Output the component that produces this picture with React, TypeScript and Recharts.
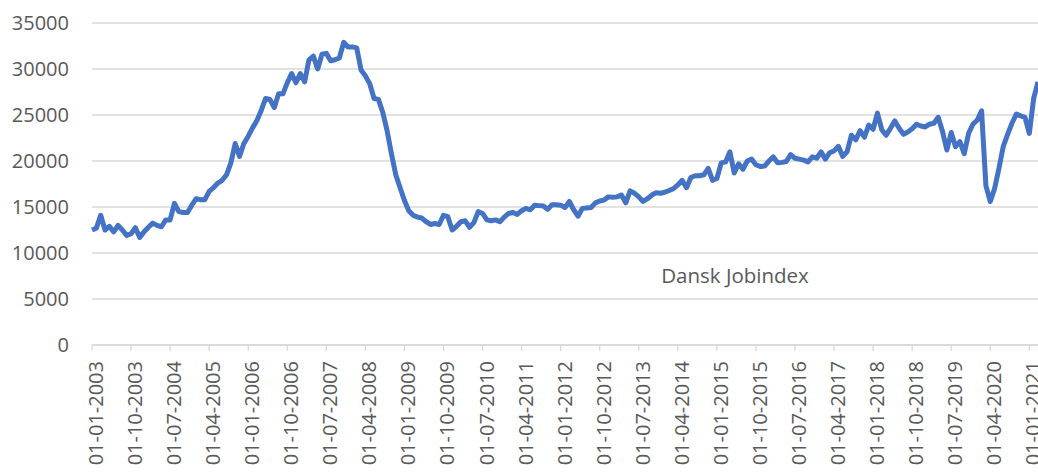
import { LineChart, Line, XAxis, YAxis, CartesianGrid, Legend } from "recharts";

// monthly values, Jan 2003 .. Mar 2021
const firstYear = 2003;
const v2003 = [12500, 12700, 14100, 12500, 12900, 12300, 13000, 12500, 11900, 12100, 12750, 11700];
const v2004 = [12300, 12800, 13250, 13000, 12850, 13600, 13600, 15400, 14500, 14400, 14400, 15200];
const v2005 = [15900, 15800, 15800, 16700, 17100, 17600, 17900, 18500, 19800, 21900, 20500, 21900];
const v2006 = [22700, 23600, 24400, 25500, 26800, 26700, 25800, 27300, 27300, 28500, 29500, 28500];
const v2007 = [29500, 28600, 31000, 31400, 30000, 31600, 31700, 30900, 31000, 31200, 32900, 32400];
const v2008 = [32400, 32300, 29900, 29250, 28400, 26800, 26700, 25300, 23300, 20800, 18500, 17100];
const v2009 = [15700, 14600, 14100, 13900, 13800, 13400, 13100, 13200, 13100, 14100, 13950, 12500];
const v2010 = [12900, 13400, 13500, 12800, 13300, 14500, 14300, 13600, 13500, 13600, 13400, 13900];
const v2011 = [14300, 14400, 14200, 14600, 14850, 14700, 15200, 15150, 15100, 14750, 15250, 15250];
const v2012 = [15200, 14950, 15600, 14700, 14000, 14850, 14900, 14950, 15450, 15650, 15750, 16100];
const v2013 = [16050, 16100, 16300, 15450, 16750, 16500, 16100, 15600, 15900, 16300, 16550, 16500];
const v2014 = [16600, 16800, 17000, 17400, 17900, 17100, 18200, 18400, 18400, 18500, 19200, 17900];
const v2015 = [18100, 19800, 19900, 21000, 18700, 19700, 19100, 20000, 20200, 19600, 19400, 19450];
const v2016 = [20000, 20450, 19800, 19850, 19950, 20700, 20300, 20200, 20100, 19900, 20450, 20300];
const v2017 = [21000, 20200, 20900, 21100, 21600, 20500, 21000, 22800, 22300, 23300, 22600, 23900];
const v2018 = [23450, 25200, 23400, 22800, 23550, 24350, 23550, 22900, 23150, 23500, 24000, 23800];
const v2019 = [23700, 24000, 24100, 24750, 23200, 21200, 23100, 21550, 22100, 20800, 23000, 24000];
const v2020 = [24450, 25450, 17300, 15600, 17000, 19200, 21600, 22900, 24100, 25100, 24900, 24750];
const v2021 = [23000, 26800, 28600];

const years = [
  v2003, v2004, v2005, v2006, v2007, v2008, v2009, v2010, v2011, v2012,
  v2013, v2014, v2015, v2016, v2017, v2018, v2019, v2020, v2021,
];

const yTicks = [0, 5000, 10000, 15000, 20000, 25000, 30000, 35000];
const seriesName = "Dansk Jobindex";

const data = years.flatMap((vals, yi) =>
  vals.map((v, mi) => ({
    date: `01-${String(mi + 1).padStart(2, "0")}-${firstYear + yi}`,
    jobs: v,
  }))
);

const FONT = "'Open Sans', sans-serif";
const TEXT = "#595959";
const GRID = "#d9d9d9";

function DateTick(props: any) {
  const { x, y, payload } = props;
  return (
    <text
      x={x}
      y={y}
      transform={`rotate(-90 ${x} ${y})`}
      textAnchor="end"
      dy="0.55em"
      fill={TEXT}
      fontSize={20}
      fontFamily={FONT}
    >
      {payload.value}
    </text>
  );
}

function NameOnly(props: any) {
  const item = props.payload && props.payload[0];
  return (
    <div style={{ fontFamily: FONT, fontSize: 20.5, lineHeight: "28px", color: TEXT, textAlign: "center" }}>
      {item ? item.value : ""}
    </div>
  );
}

export default function App() {
  return (
    <div style={{ position: "absolute", left: 0, top: 0 }}>
      <LineChart width={1038} height={473} data={data} margin={{ top: 23, right: 0, bottom: 0, left: 0 }}>
        <CartesianGrid vertical={false} stroke={GRID} strokeWidth={1.3} />
        <XAxis
          dataKey="date"
          interval={8}
          tick={<DateTick />}
          tickSize={6}
          tickMargin={10}
          height={128}
          axisLine={{ stroke: GRID, strokeWidth: 1.3 }}
          tickLine={{ stroke: GRID, strokeWidth: 1.3 }}
        />
        <YAxis
          domain={[0, 35000]}
          ticks={yTicks}
          width={92}
          axisLine={false}
          tickLine={false}
          tickSize={8}
          tickMargin={15}
          tick={{ fill: TEXT, fontSize: 20, fontFamily: FONT }}
        />
        <Legend
          layout="horizontal"
          verticalAlign="middle"
          align="center"
          content={<NameOnly />}
          wrapperStyle={{ left: 600, top: 261, width: 270 }}
        />
        <Line
          name={seriesName}
          dataKey="jobs"
          type="linear"
          stroke="#4472C4"
          strokeWidth={5}
          strokeLinejoin="round"
          dot={false}
          activeDot={false}
          isAnimationActive={false}
        />
      </LineChart>
    </div>
  );
}
